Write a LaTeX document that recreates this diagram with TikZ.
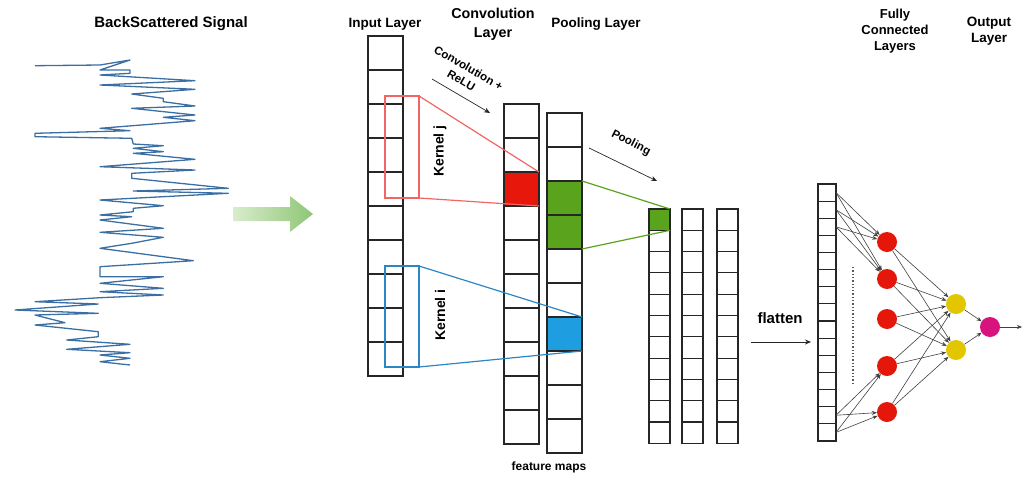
\documentclass[tikz,border=0pt]{standalone}
\usepackage{fontspec}
\setmainfont{Liberation Sans}
\usetikzlibrary{arrows.meta}
\definecolor{sig}{HTML}{3B6FA3}
\definecolor{kred}{HTML}{F26565}
\definecolor{cred}{HTML}{E8170C}
\definecolor{cgreen}{HTML}{5AA31C}
\definecolor{kblue}{HTML}{2C86C4}
\definecolor{cblue}{HTML}{1E9DE0}
\definecolor{nred}{HTML}{E5170A}
\definecolor{nyel}{HTML}{E2C700}
\definecolor{nmag}{HTML}{D8137F}
\definecolor{arrL}{HTML}{D9EDCC}
\definecolor{arrR}{HTML}{8EC576}
\begin{document}
\begin{tikzpicture}[x=1pt,y=-1pt,
  cell/.style={draw=black!85,line width=1.1pt,inner sep=0pt,outer sep=0pt,anchor=north west},
  bigcell/.style={cell,minimum width=35pt,minimum height=34pt},
  smallcell/.style={cell,minimum width=21pt,minimum height=21.3pt},
  flcell/.style={cell,minimum width=18pt,minimum height=17.13pt},
  kernel/.style={line width=1.2pt,inner sep=0pt,outer sep=0pt,anchor=north west,minimum width=34pt},
  ttl/.style={font=\fontsize{13.5}{16.5}\selectfont\bfseries,align=center,inner sep=0pt},
  lbl/.style={font=\fontsize{14}{16}\selectfont\bfseries,inner sep=0pt},
  fc/.style={draw=black!75,line width=0.6pt,-{Stealth[length=5pt,width=4pt]}},
  plain/.style={draw=black!85,line width=0.7pt,-{Stealth[length=6pt,width=5pt]}},
  neuron/.style={circle,minimum size=20pt,inner sep=0pt,draw=none}]
\useasboundingbox (0,0) rectangle (1027,477);

% titles
\node[ttl,font=\fontsize{15}{18}\selectfont\bfseries] (tsig) at (171,24) {BackScattered Signal};
\node[ttl] (tin) at (385,24) {Input Layer};
\node[ttl,font=\fontsize{14.3}{19}\selectfont\bfseries] (tconv) at (493,24) {Convolution\\Layer};
\node[ttl] (tpool) at (596,24) {Pooling Layer};
\node[ttl,font=\fontsize{13}{16}\selectfont\bfseries] (tfc) at (895,31) {Fully\\Connected\\Layers};
\node[ttl] (tout) at (989,31) {Output\\Layer};

% signal
\draw[sig,line width=1.3pt,line join=round] plot coordinates {
(35,65.7) (100,65) (130,60) (100,70) (130,70) (130,73.3) (100,75) (195,80.7) (100,85) (195,89.3)
(131.7,94) (163.3,98.3) (163.3,101.7) (195,106) (131.7,108.3) (195,115) (163.3,117.3) (195,120.7)
(100,128.3) (130,130.7) (35,133.3) (35,136.7) (131.7,138.3) (133.3,144) (163.3,145.7) (133.3,148.3)
(163.3,151.7) (133.3,153.3) (195,159.3) (100,166.7) (195,170) (131.7,173.3) (131.7,178.3)
(228.3,188.3) (133.3,191) (228.3,193.3) (100,200) (163.3,205.7) (133.3,208.3) (133.3,211.7)
(100,215) (131.7,216.7) (100,220) (163.3,228.3) (100,232.3) (163.3,237.3) (131.7,243.3) (100,248.3)
(163.3,256.7) (193.3,260.7) (100,266.7) (100,276.7) (163.3,276.7) (100,283.3) (163.3,288.3)
(100,291.7) (163.3,295) (100,297.7) (35,301.7) (98.3,304) (15,310) (98.3,313.3) (35,315)
(65,322.7) (35,325) (98.3,331.7) (98.3,336.7) (66.7,340) (130,344.3) (66.7,349.3) (130,352.7)
(100,355) (130,358.3) (100,361.7) (130,365)};

% big green arrow
\shade[left color=arrL,right color=arrR] (233,207) -- (290,207) -- (290,196) -- (313,214)
  -- (290,232) -- (290,221) -- (233,221) -- cycle;

% input layer
\foreach \i in {1,...,10} \node[bigcell] (in\i) at (368,{36+34*(\i-1)}) {};
% convolution layer
\foreach \i/\f in {1/white,2/white,3/cred,4/white,5/white,6/white,7/white,8/white,9/white,10/white}
  \node[bigcell,fill=\f] (cv\i) at (504,{104+34*(\i-1)}) {};
% pooling layer (feature maps)
\foreach \i/\f in {1/white,2/white,3/cgreen,4/cgreen,5/white,6/white,7/cblue,8/white,9/white,10/white}
  \node[bigcell,fill=\f] (pl\i) at (547,{113+34*(\i-1)}) {};

% pooled maps
\node[smallcell,fill=cgreen] (p1-1) at (649,209) {};
\foreach \i in {2,...,11} \node[smallcell] (p1-\i) at (649,{209+21.3*(\i-1)}) {};
\foreach \c/\x in {2/682,3/717} \foreach \i in {1,...,11}
  \node[smallcell] (p\c-\i) at (\x,{209+21.3*(\i-1)}) {};

% kernels
\node[kernel,draw=kred,minimum height=102pt] (kj) at (385,96) {};
\draw[kred,line width=1.2pt] (kj.north east) -- (cv3.north east) (kj.south east) -- (cv3.south east);
\node[kernel,draw=kblue,minimum height=101pt] (ki) at (385,266) {};
\draw[kblue,line width=1.2pt] (ki.north east) -- (pl7.north east) (ki.south east) -- (pl7.south east);
\draw[cgreen,line width=1.2pt] (pl3.north east) -- (p1-1.north east) (pl4.south east) -- (p1-1.south east);

\node[lbl,rotate=90] (kjl) at (440,151) {Kernel j};
\node[lbl,rotate=90] (kil) at (440,315) {Kernel i};

% convolution + relu
\node[font=\fontsize{11.5}{14.5}\selectfont\bfseries,align=center,rotate=-30,inner sep=0pt] (crl) at (465,74) {Convolution +\\ReLU};
\coordinate (ca1) at (432,79);
\coordinate (ca2) at (490,113);
\draw[plain] (ca1) -- (ca2);

% pooling
\node[font=\fontsize{11.5}{14}\selectfont\bfseries,rotate=-27,inner sep=0pt] (pll) at (631,143) {Pooling};
\coordinate (pa1) at (589,148);
\coordinate (pa2) at (657,181);
\draw[plain] (pa1) -- (pa2);

\node[font=\fontsize{12}{14}\selectfont\bfseries,inner sep=0pt] (fm) at (549,467) {feature maps};

% flatten
\foreach \i in {1,...,15} \node[flcell] (fl\i) at (818,{184+17.13*(\i-1)}) {};
\node[font=\fontsize{15}{17}\selectfont\bfseries,inner sep=0pt] (flt) at (780,318) {flatten};
\coordinate (fa1) at (751,342);
\coordinate (fa2) at (811,342);
\draw[plain] (fa1) -- (fa2);
\coordinate (d1) at (853,267);
\coordinate (d2) at (853,385);
\draw[black!65,line width=1.3pt,dotted] (d1) -- (d2);

% neurons
\foreach \i/\y in {1/242,2/279,3/319,4/366,5/412} \node[neuron,fill=nred] (r\i) at (887,\y) {};
\node[neuron,fill=nyel] (y1) at (956,304) {};
\node[neuron,fill=nyel] (y2) at (956,350) {};
\node[neuron,fill=nmag] (m) at (990,327) {};
\coordinate (out) at (1022,327);

\foreach \s in {1,2,3} \foreach \t in {1,2} \draw[fc] (fl\s.east) -- (r\t);
\foreach \s in {14,15} \foreach \t in {4,5} \draw[fc] (fl\s.east) -- (r\t);
\foreach \s in {1,...,5} \foreach \t in {1,2} \draw[fc] (r\s) -- (y\t);
\draw[fc] (y1) -- (m);
\draw[fc] (y2) -- (m);
\draw[fc] (m) -- (out);
\end{tikzpicture}
\end{document}
